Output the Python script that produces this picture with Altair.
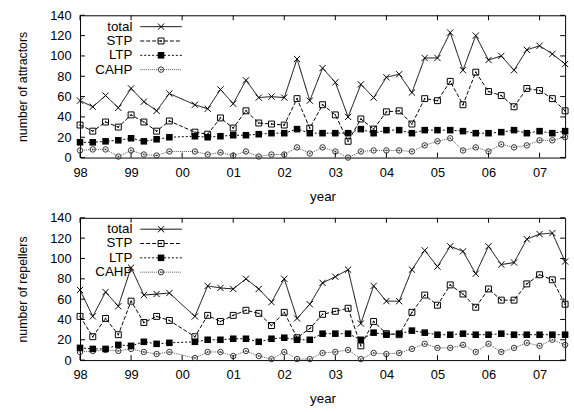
import altair as alt
import pandas as pd

# ---------------- data ----------------
quarters = [1998.0, 1998.25, 1998.5, 1998.75, 1999.0, 1999.25, 1999.5, 1999.75,
            2000.25, 2000.5, 2000.75, 2001.0, 2001.25, 2001.5, 2001.75, 2002.0,
            2002.25, 2002.5, 2002.75, 2003.0, 2003.25, 2003.5, 2003.75, 2004.0,
            2004.25, 2004.5, 2004.75, 2005.0, 2005.25, 2005.5, 2005.75, 2006.0,
            2006.25, 2006.5, 2006.75, 2007.0, 2007.25, 2007.5]

attr_total = [56, 50, 61, 49, 68, 55, 46, 63,
              52, 48, 67, 53, 76, 59, 60, 59, 97, 56,
              88, 74, 40, 72, 59, 79, 82, 64, 98, 98, 123, 86, 120, 96, 100, 86, 106, 110, 102, 92]
attr_stp = [32, 26, 35, 30, 42, 35, 26, 36,
            25, 23, 39, 29, 46, 34, 33, 32, 58, 29,
            52, 42, 16, 38, 28, 45, 46, 33, 58, 56, 75, 52, 84, 65, 61, 50, 68, 66, 58, 46]
attr_ltp = [15, 15, 16, 17, 19, 16, 18, 20,
            21, 20, 21, 22, 22, 23, 24, 24, 28, 24,
            24, 24, 24, 28, 24, 27, 27, 24, 27, 27, 27, 26, 24, 24, 25, 27, 24, 26, 24, 26]
attr_cahp = [7, 8, 8, 1, 7, 3, 2, 6,
             6, 3, 5, 2, 6, 1, 3, 3, 10, 4,
             10, 6, 0, 6, 7, 7, 7, 6, 12, 16, 19, 7, 10, 6, 13, 10, 12, 17, 17, 20]

rep_total = [69, 43, 67, 53, 91, 64, 65, 66,
             43, 73, 71, 70, 80, 70, 57, 80, 41, 55,
             76, 82, 89, 36, 73, 58, 58, 89, 108, 92, 112, 107, 85, 112, 94, 96, 119, 124, 125, 97]
rep_stp = [43, 23, 41, 25, 58, 37, 43, 39,
           23, 44, 38, 44, 49, 46, 34, 47, 22, 31,
           45, 48, 51, 14, 38, 26, 25, 47, 64, 54, 74, 65, 52, 70, 59, 59, 75, 84, 79, 55]
rep_ltp = [12, 11, 11, 15, 14, 18, 16, 17,
           18, 20, 20, 21, 21, 18, 21, 22, 20, 20,
           26, 26, 26, 20, 27, 25, 26, 29, 27, 25, 25, 26, 25, 25, 26, 25, 25, 25, 25, 25]
rep_cahp = [8, 9, 10, 9, 11, 8, 6, 8,
            2, 8, 8, 4, 9, 4, 1, 8, 1, 1,
            7, 8, 10, 1, 7, 6, 7, 11, 16, 12, 12, 15, 8, 16, 8, 12, 17, 14, 20, 15]

series_names = ["total", "STP", "LTP", "CAHP"]
year_ticks = [1998, 1999, 2000, 2001, 2002, 2003, 2004, 2005, 2006, 2007]
year_labels = ["98", "99", "00", "01", "02", "03", "04", "05", "06", "07"]
count_ticks = [0, 20, 40, 60, 80, 100, 120, 140]
x_domain = [1998, 2007.5]
y_domain = [0, 140]

# ---------------- styling ----------------
W, H = 491, 144
FONT = "Liberation Sans"
TICK = 5

CROSS = "M-1,-1L1,1M-1,1L1,-1"
styles = {
    "total": dict(dash=[1, 0], lcolor="black", shape=CROSS, filled=False, size=40, mcolor="black", dot=False),
    "STP": dict(dash=[4, 2], lcolor="black", shape="square", filled=False, size=36, mcolor="black", dot=True),
    "LTP": dict(dash=[2, 2], lcolor="black", shape="square", filled=True, size=44, mcolor="black", dot=False),
    "CAHP": dict(dash=[1, 1], lcolor="#555555", shape="circle", filled=False, size=30, mcolor="#333333", dot=True),
}

label_expr = ("[" + ",".join("'%s'" % s for s in year_labels) + "][round(datum.value) - %d]"
              % year_ticks[0])

xs = alt.Scale(domain=x_domain, nice=False, zero=False)
ys = alt.Scale(domain=y_domain, nice=False, zero=True)


def x_axis():
    return alt.Axis(values=year_ticks, labelExpr=label_expr, ticks=False, domain=False,
                    grid=False, title="year", labelFont=FONT, labelFontSize=13,
                    labelPadding=9, labelColor="black", titleFont=FONT, titleFontSize=13.5,
                    titleFontWeight="normal", titleColor="black", titlePadding=10,
                    labelFlush=False, labelOverlap=False)


def y_axis(title):
    return alt.Axis(values=count_ticks, ticks=False, domain=False, grid=False, title=title,
                    labelFont=FONT, labelFontSize=13, labelPadding=9, labelColor="black",
                    titleFont=FONT, titleFontSize=12.5, titleFontWeight="normal",
                    titleColor="black", titlePadding=20, labelFlush=False, labelOverlap=False)


def marker(data, st, X, Y):
    if st["filled"]:
        return alt.Chart(data).mark_point(shape=st["shape"], filled=True, size=st["size"],
                                          color=st["mcolor"], opacity=1).encode(x=X, y=Y)
    return alt.Chart(data).mark_point(shape=st["shape"], filled=False, size=st["size"],
                                      color=st["mcolor"], strokeWidth=1, opacity=1).encode(x=X, y=Y)


def center_dot(data, st, X, Y):
    return alt.Chart(data).mark_point(shape="square", filled=True, size=2,
                                      color=st["mcolor"], opacity=1).encode(x=X, y=Y)


def panel(values, ytitle):
    frames = []
    for name, vals in zip(series_names, values):
        frames.append(pd.DataFrame({"t": quarters, "v": vals, "series": name}))
    df = pd.concat(frames, ignore_index=True)

    X = alt.X("t:Q", scale=xs, axis=x_axis())
    Y = alt.Y("v:Q", scale=ys, axis=y_axis(ytitle))

    layers = []
    for name in reversed(series_names):
        st = styles[name]
        sub = df[df.series == name]
        layers.append(
            alt.Chart(sub).mark_line(color=st["lcolor"], strokeWidth=1,
                                     strokeDash=st["dash"], clip=True).encode(x=X, y=Y)
        )
    for name in reversed(series_names):
        st = styles[name]
        sub = df[df.series == name]
        layers.append(marker(sub, st, X, Y))
        if st["dot"]:
            layers.append(center_dot(sub, st, X, Y))

    # inward ticks on all four sides
    xt = pd.DataFrame({"t": year_ticks})
    yt = pd.DataFrame({"v": count_ticks})
    layers.append(alt.Chart(xt).mark_rule(color="black", strokeWidth=1).encode(
        x=X, y=alt.value(0), y2=alt.value(TICK)))
    layers.append(alt.Chart(xt).mark_rule(color="black", strokeWidth=1).encode(
        x=X, y=alt.value(H), y2=alt.value(H - TICK)))
    layers.append(alt.Chart(yt).mark_rule(color="black", strokeWidth=1).encode(
        y=Y, x=alt.value(0), x2=alt.value(TICK)))
    layers.append(alt.Chart(yt).mark_rule(color="black", strokeWidth=1).encode(
        y=Y, x=alt.value(W), x2=alt.value(W - TICK)))

    # key (gnuplot style: label, sample line, marker)
    key_y0, key_dy = 11.5, 14.5
    KX = alt.value(82)
    for i, name in enumerate(series_names):
        st = styles[name]
        yy = key_y0 + i * key_dy
        kd = pd.DataFrame({"label": [name]})
        KY = alt.value(yy)
        layers.append(alt.Chart(kd).mark_text(align="right", baseline="middle", font=FONT,
                                              fontSize=13.5, color="black").encode(
            x=alt.value(53), y=KY, text="label:N"))
        layers.append(alt.Chart(kd).mark_rule(color=st["lcolor"], strokeWidth=1,
                                              strokeDash=st["dash"]).encode(
            x=alt.value(61), x2=alt.value(103), y=KY))
        layers.append(marker(kd, st, KX, KY))
        if st["dot"]:
            layers.append(center_dot(kd, st, KX, KY))

    return alt.layer(*layers).properties(width=W, height=H)


top = panel([attr_total, attr_stp, attr_ltp, attr_cahp], "number of attractors")
bottom = panel([rep_total, rep_stp, rep_ltp, rep_cahp], "number of repellers")

chart = (
    alt.vconcat(top, bottom, spacing=8)
    .properties(padding={"left": 16, "top": 6, "right": 3, "bottom": 0}, background="white")
    .configure_view(stroke="black", strokeWidth=1)
)

chart.save("out.html", embed_options={"renderer": "svg", "actions": False})
